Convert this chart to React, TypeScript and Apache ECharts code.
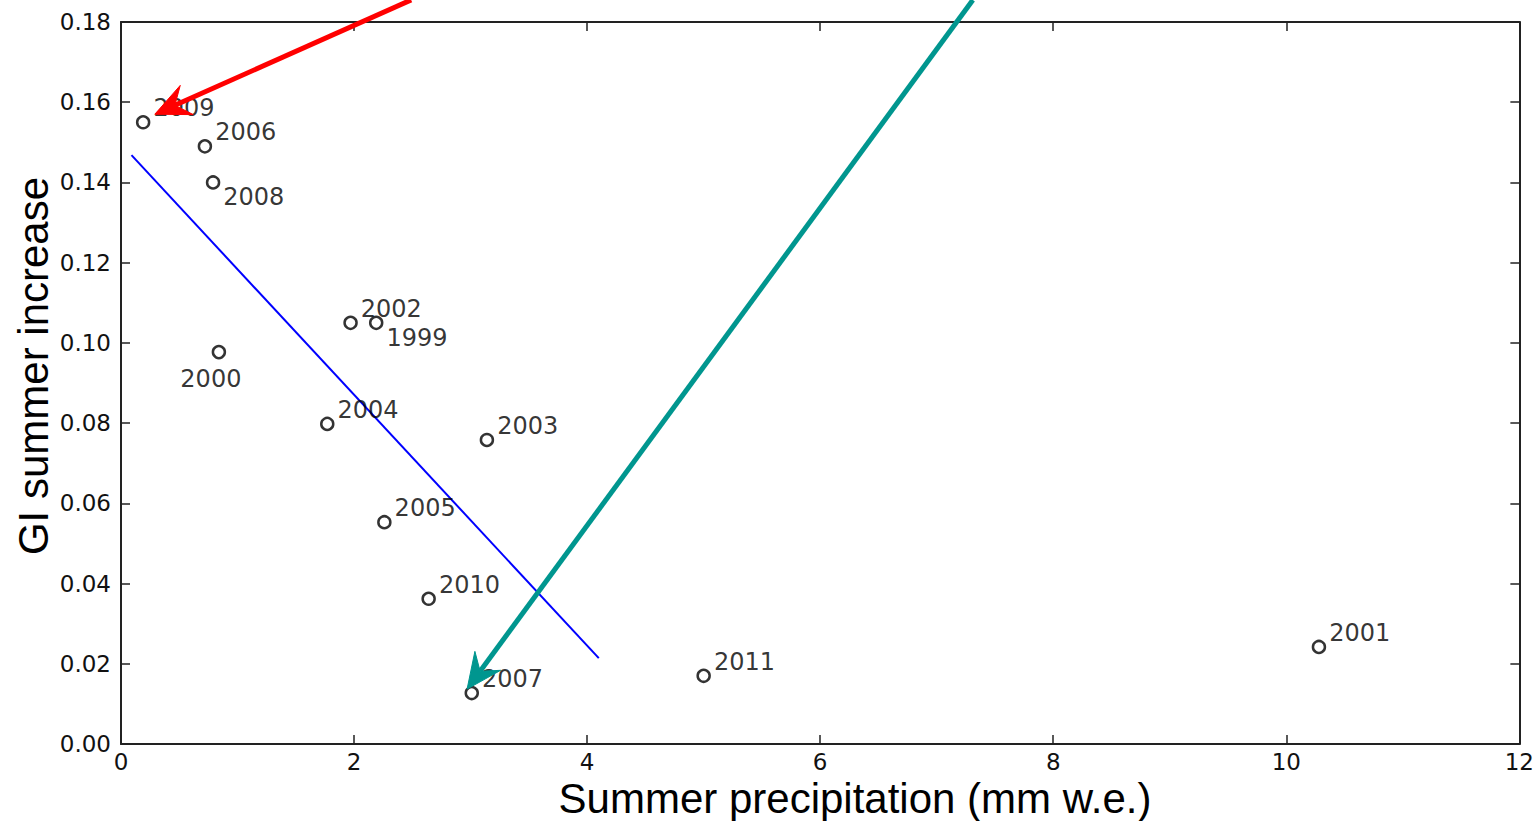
import React, { useEffect, useRef } from 'react';
import * as echarts from 'echarts';

// ---- data ----
const years = ['2009', '2006', '2008', '2000', '2002', '1999', '2004', '2003', '2005', '2010', '2007', '2011', '2001'];
const precipitation = [0.19, 0.72, 0.79, 0.84, 1.97, 2.19, 1.77, 3.14, 2.26, 2.64, 3.01, 5.0, 10.28];
const giIncrease = [0.155, 0.149, 0.140, 0.0977, 0.105, 0.105, 0.0798, 0.0758, 0.0553, 0.0362, 0.0127, 0.017, 0.0242];
const fitX = [0.09, 4.10];
const fitY = [0.1468, 0.0214];
const xTitle = 'Summer precipitation (mm w.e.)';
const yTitle = 'GI summer increase';
// annotation arrows (data coords: from -> to)
const redArrowFrom = [2.49, 0.1855];
const redArrowTo = [0.29, 0.157];
const tealArrowFrom = [7.31, 0.1855];
const tealArrowTo = [2.97, 0.0137];

const labelsBelowRight = ['2008', '1999'];
const labelsBelow = ['2000'];

const TICK_FONT = 'DejaVu Sans';
const TITLE_FONT = 'Liberation Sans';

function labelFor(y: string) {
  const base = { show: true, formatter: '{b}', color: '#000', fontFamily: TICK_FONT, fontSize: 24 };
  if (labelsBelow.includes(y)) return { ...base, position: 'bottom', distance: 3, offset: [-8, 5] };
  if (labelsBelowRight.includes(y)) return { ...base, position: 'right', distance: 3, offset: [0, 15] };
  return { ...base, position: 'right', distance: 3, offset: [0, -14] };
}

function arrowGraphics(chart: any, from: number[], to: number[], color: string) {
  const p0 = chart.convertToPixel({ xAxisIndex: 0, yAxisIndex: 0 }, from);
  const p1 = chart.convertToPixel({ xAxisIndex: 0, yAxisIndex: 0 }, to);
  const dx = p1[0] - p0[0];
  const dy = p1[1] - p0[1];
  const len = Math.sqrt(dx * dx + dy * dy);
  const ux = dx / len, uy = dy / len;
  const nx = -uy, ny = ux;
  const L = 35, W = 16, notch = 22;
  const back = [p1[0] - ux * L, p1[1] - uy * L];
  const notchP = [p1[0] - ux * notch, p1[1] - uy * notch];
  return [
    {
      type: 'polyline',
      silent: true,
      z: 100,
      shape: { points: [p0, notchP] },
      style: { stroke: color, lineWidth: 5, fill: null },
    },
    {
      type: 'polygon',
      silent: true,
      z: 101,
      shape: {
        points: [
          p1,
          [back[0] + nx * W, back[1] + ny * W],
          notchP,
          [back[0] - nx * W, back[1] - ny * W],
        ],
      },
      style: { fill: color, stroke: color, lineWidth: 1 },
    },
  ];
}

export default function App() {
  const ref = useRef<HTMLDivElement>(null);

  useEffect(() => {
    document.body.style.margin = '0';
    document.body.style.overflow = 'hidden';
    if (!ref.current) return;
    const chart = echarts.init(ref.current, null, { renderer: 'svg' });

    const axisLine = { show: true, onZero: false, lineStyle: { color: '#222', width: 2 } };
    const axisTick = { show: true, inside: true, length: 9, lineStyle: { color: '#222', width: 1.5 } };

    chart.setOption({
      animation: false,
      backgroundColor: '#fff',
      grid: { left: 121, top: 22, right: 16, bottom: 77, containLabel: false },
      xAxis: [
        {
          type: 'value', min: 0, max: 12, interval: 2, position: 'bottom',
          axisLine, axisTick, splitLine: { show: false },
          axisLabel: { color: '#111', fontFamily: TICK_FONT, fontSize: 23, margin: 6 },
        },
        {
          type: 'value', min: 0, max: 12, interval: 2, position: 'top',
          axisLine, axisTick, splitLine: { show: false }, axisLabel: { show: false },
        },
      ],
      yAxis: [
        {
          type: 'value', min: 0, max: 0.18, interval: 0.02, position: 'left',
          axisLine, axisTick, splitLine: { show: false },
          axisLabel: { color: '#111', fontFamily: TICK_FONT, fontSize: 23, margin: 10, formatter: (v: number) => v.toFixed(2) },
        },
        {
          type: 'value', min: 0, max: 0.18, interval: 0.02, position: 'right',
          axisLine, axisTick, splitLine: { show: false }, axisLabel: { show: false },
        },
      ],
      series: [
        {
          type: 'line',
          data: fitX.map((x, i) => [x, fitY[i]]),
          symbol: 'none',
          lineStyle: { color: '#0000ff', width: 2 },
          z: 2,
        },
        {
          type: 'scatter',
          symbol: 'circle',
          symbolSize: 12,
          itemStyle: { color: 'rgba(0,0,0,0)', borderColor: '#000', borderWidth: 2.5 },
          data: years.map((y, i) => ({ name: y, value: [precipitation[i], giIncrease[i]], label: labelFor(y) })),
          z: 3,
        },
      ],
    });

    const graphics: any[] = [
      {
        type: 'text',
        x: 855, y: 798,
        silent: true,
        style: { text: xTitle, fill: '#000', font: `42px "${TITLE_FONT}"`, textAlign: 'center', textVerticalAlign: 'middle' },
      },
      {
        type: 'text',
        x: 33, y: 366,
        rotation: Math.PI / 2,
        silent: true,
        style: { text: yTitle, fill: '#000', font: `42px "${TITLE_FONT}"`, textAlign: 'center', textVerticalAlign: 'middle' },
      },
      ...arrowGraphics(chart, redArrowFrom, redArrowTo, '#ff0000'),
      ...arrowGraphics(chart, tealArrowFrom, tealArrowTo, '#00968f'),
    ];
    chart.setOption({ graphic: graphics });

    return () => chart.dispose();
  }, []);

  return <div ref={ref} style={{ width: 1537, height: 821 }} />;
}
